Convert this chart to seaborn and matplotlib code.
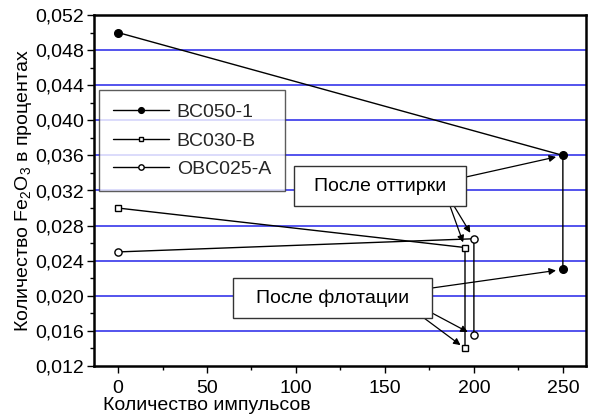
import matplotlib
matplotlib.use("Agg")
import matplotlib.pyplot as plt
from matplotlib.patches import Rectangle
from matplotlib.ticker import MultipleLocator, FuncFormatter
import seaborn as sns
import pandas as pd

sns.set_theme(style="white")
plt.rcParams["font.family"] = ["Liberation Sans", "DejaVu Sans"]
plt.rcParams["mathtext.fontset"] = "custom"
plt.rcParams["mathtext.rm"] = "Liberation Sans"
plt.rcParams["mathtext.it"] = "Liberation Sans"
plt.rcParams["mathtext.default"] = "regular"

# Measured Fe2O3 content vs. number of pulses
pulses_bc050 = [0, 250, 250]
fe2o3_bc050 = [0.050, 0.036, 0.023]
pulses_bc030 = [0, 195, 195]
fe2o3_bc030 = [0.030, 0.0255, 0.014]
pulses_obc025 = [0, 200, 200]
fe2o3_obc025 = [0.025, 0.0265, 0.0155]
series_names = ["BC050-1", "BC030-B", "OBC025-A"]

frames = []
for name, xs, ys in zip(series_names,
                        [pulses_bc050, pulses_bc030, pulses_obc025],
                        [fe2o3_bc050, fe2o3_bc030, fe2o3_obc025]):
    frames.append(pd.DataFrame({"pulses": xs, "fe2o3": ys, "sample": name}))
df = pd.concat(frames, ignore_index=True)

FS = 14
W, H = 589, 415

fig = plt.figure(figsize=(W / 100, H / 100), dpi=100)
ax = fig.add_axes([94 / W, 1 - 366 / H, (586 - 94) / W, (366 - 15) / H])


def fig_xy(px, py):
    """Pixel position (top-left origin) to figure fraction."""
    return px / W, 1 - py / H


# horizontal grid lines at major y ticks
for yv in [0.016, 0.020, 0.024, 0.028, 0.032, 0.036, 0.040, 0.044, 0.048]:
    ax.axhline(yv, color="#2525e8", lw=1.1, zorder=0)

markers = {"BC050-1": "o", "BC030-B": "s", "OBC025-A": "o"}
faces = {"BC050-1": "black", "BC030-B": "white", "OBC025-A": "white"}
sizes = {"BC050-1": 5.5, "BC030-B": 4.6, "OBC025-A": 5.2}
for name in series_names:
    sub = df[df["sample"] == name]
    sns.lineplot(data=sub, x="pulses", y="fe2o3", sort=False, estimator=None,
                 ax=ax, color="black", lw=1.0, marker=markers[name],
                 markersize=sizes[name], markerfacecolor=faces[name],
                 markeredgecolor="black", markeredgewidth=1.0,
                 label=name, zorder=3)

ax.set_xlim(-13.5, 263)
ax.set_ylim(0.012, 0.052)
ax.xaxis.set_major_locator(MultipleLocator(50))
ax.xaxis.set_minor_locator(MultipleLocator(25))
ax.yaxis.set_major_locator(MultipleLocator(0.004))
ax.yaxis.set_minor_locator(MultipleLocator(0.002))
ax.yaxis.set_major_formatter(FuncFormatter(lambda v, p: f"{v:.3f}".replace(".", ",")))
ax.tick_params(axis="both", which="major", direction="out", length=5, width=1,
               labelsize=FS, color="black", labelcolor="black", pad=2,
               bottom=True, left=True)
ax.tick_params(axis="both", which="minor", direction="out", length=3, width=1,
               color="black", bottom=True, left=True)
ax.tick_params(axis="x", which="major", pad=5)
for sp in ax.spines.values():
    sp.set_visible(True)
    sp.set_color("black")
    sp.set_linewidth(1.8)

ax.set_xlabel("Количество импульсов", fontsize=FS, color="black", labelpad=0)
ax.set_ylabel("Количество Fe$_2$O$_3$ в процентах", fontsize=FS, color="black", labelpad=1)
ax.xaxis.label.set_horizontalalignment("left")
ax.xaxis.set_label_coords(9 / 492, -0.088)

leg = ax.legend(loc="upper left", bbox_to_anchor=(5 / 492, 1 - 75 / 351),
                fontsize=FS, frameon=True, fancybox=False, edgecolor="#333333",
                handlelength=2.9, handletextpad=0.4, borderpad=0.7,
                labelspacing=0.55, borderaxespad=0, markerscale=0.75)
leg.get_frame().set_linewidth(1.0)
leg.set_zorder(5)

arrow = dict(arrowstyle="-|>", color="black", lw=0.9, mutation_scale=10,
             shrinkA=0)


def callout(text, left, top, right, bottom, targets):
    """Boxed label in pixel coords with arrows from given edge points to data points."""
    x0, y0 = fig_xy(left, bottom)
    x1, y1 = fig_xy(right, top)
    fig.add_artist(Rectangle((x0, y0), x1 - x0, y1 - y0, transform=fig.transFigure,
                             fc="white", ec="#333333", lw=1.0, zorder=6))
    cx, cy = fig_xy((left + right) / 2, (top + bottom) / 2)
    fig.text(cx, cy, text, fontsize=FS, ha="center", va="center",
             color="black", zorder=7)
    for (px, py), xy, shrink in targets:
        ax.annotate("", xy=xy, xytext=fig_xy(px, py), textcoords="figure fraction",
                    arrowprops=dict(arrow, shrinkB=shrink), zorder=6)


callout("После оттирки", 294, 166, 466, 206, [
    ((466, 177), (pulses_bc050[1], fe2o3_bc050[1]), 5),
    ((450, 206), (pulses_bc030[1], fe2o3_bc030[1]), 4),
    ((454, 206), (pulses_obc025[1], fe2o3_obc025[1]), 5),
])
callout("После флотации", 233, 278, 432, 318, [
    ((432, 288), (pulses_bc050[2], fe2o3_bc050[2]), 5),
    ((432, 313), (pulses_obc025[2], fe2o3_obc025[2]), 5),
    ((424, 318), (pulses_bc030[2], fe2o3_bc030[2]), 4),
])

fig.savefig("out.png", dpi=100, facecolor="white")
